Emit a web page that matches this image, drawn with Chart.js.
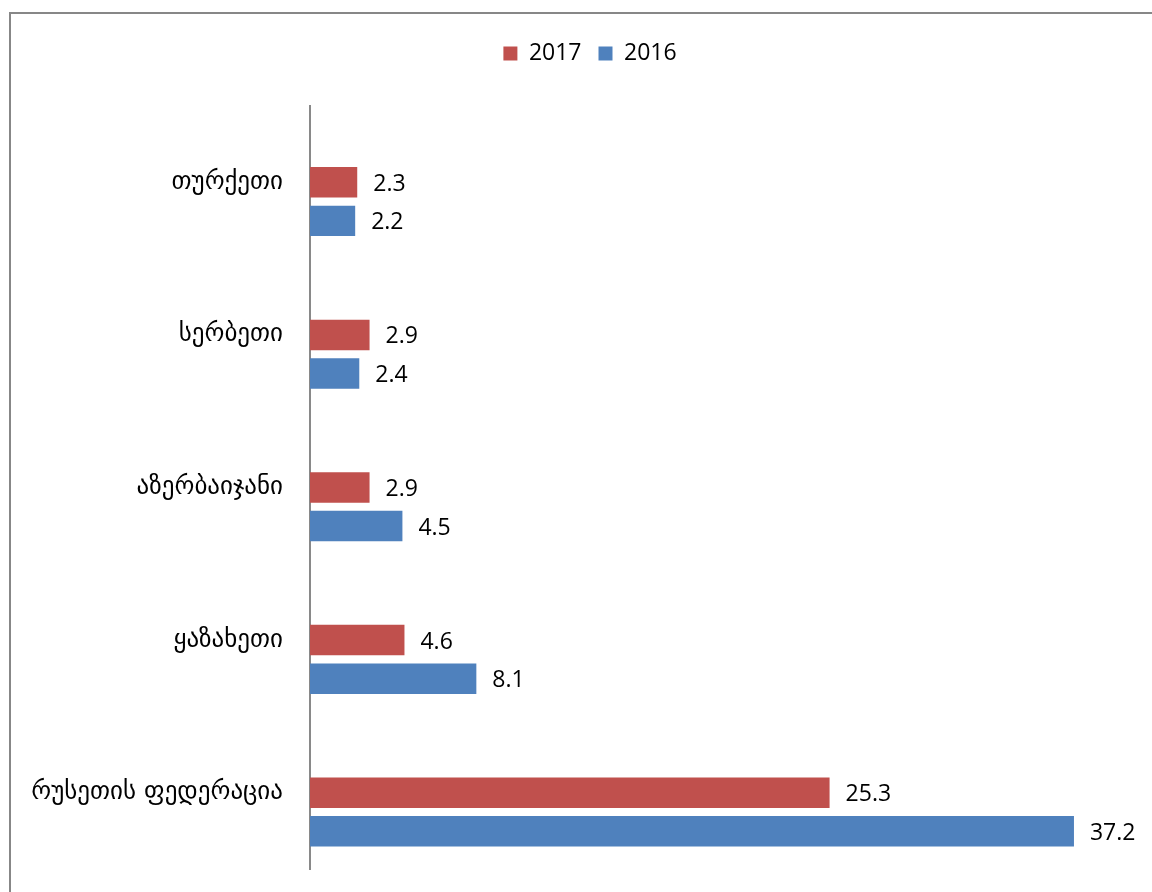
<!DOCTYPE html>
<html>
<head>
<meta charset="utf-8">
<script src="https://cdn.jsdelivr.net/npm/chart.js@4/dist/chart.umd.min.js"></script>
<style>
  html, body { margin: 0; padding: 0; background: #fff; }
  #wrap { width: 1152px; height: 892px; position: relative; }
</style>
</head>
<body>
<div id="wrap"><canvas id="chart"></canvas></div>
<script>
  // Countries, top to bottom
  const countries = ["თურქეთი", "სერბეთი", "აზერბაიჯანი", "ყაზახეთი", "რუსეთის ფედერაცია"];
  const values2017 = [2.3, 2.9, 2.9, 4.6, 25.3];
  const values2016 = [2.2, 2.4, 4.5, 8.1, 37.2];
  // empty series that keeps the top slot of every group free (as in the source chart)
  const emptySeries = [null, null, null, null, null];

  const RED = "#C0504D";
  const BLUE = "#4F81BD";
  const AXIS_GREY = "#898989";

  // frame around the whole chart
  const framePlugin = {
    id: "frame",
    beforeDraw(chart) {
      const ctx = chart.ctx;
      ctx.save();
      ctx.strokeStyle = "#878787";
      ctx.lineWidth = 2;
      ctx.strokeRect(10, 13, chart.width + 20, chart.height + 20);
      ctx.restore();
    }
  };

  // push the plot area down below the legend
  const legendGap = {
    id: "legendGap",
    beforeInit(chart) {
      const fit = chart.legend.fit;
      chart.legend.fit = function() {
        fit.bind(chart.legend)();
        this.height += 31;
      };
    }
  };

  // value labels at the end of each bar
  const valueLabels = {
    id: "valueLabels",
    afterDatasetsDraw(chart) {
      const ctx = chart.ctx;
      ctx.save();
      ctx.font = "23px 'Open Sans'";
      ctx.fillStyle = "#000";
      ctx.textBaseline = "middle";
      ctx.textAlign = "left";
      chart.data.datasets.forEach((ds, i) => {
        if (ds.placeholder) return;
        chart.getDatasetMeta(i).data.forEach((bar, j) => {
          const v = ds.data[j];
          if (v == null) return;
          ctx.fillText(v.toFixed(1), bar.x + 16, bar.y + 2);
        });
      });
      ctx.restore();
    }
  };

  new Chart(document.getElementById("chart"), {
    type: "bar",
    data: {
      labels: countries,
      datasets: [
        { label: "", data: emptySeries, placeholder: true, backgroundColor: "transparent" },
        { label: "2017", data: values2017, backgroundColor: RED },
        { label: "2016", data: values2016, backgroundColor: BLUE }
      ]
    },
    options: {
      indexAxis: "y",
      responsive: true,
      maintainAspectRatio: false,
      animation: false,
      categoryPercentage: 0.758,
      barPercentage: 0.79,
      layout: {
        padding: { top: 25, left: 28, right: 0, bottom: 23 }
      },
      plugins: {
        legend: {
          position: "top",
          labels: {
            filter: item => item.text !== "",
            boxWidth: 14,
            boxHeight: 14,
            padding: 17,
            color: "#000",
            font: { family: "'Open Sans'", size: 23 }
          }
        },
        tooltip: { enabled: false }
      },
      scales: {
        x: {
          display: false,
          min: 0,
          max: 41
        },
        y: {
          afterFit(scale) {
            scale.width = 282;
            scale.paddingTop = 0;
            scale.paddingBottom = 0;
          },
          grid: { display: false },
          border: { display: true, color: AXIS_GREY, width: 2 },
          ticks: {
            padding: 19,
            color: "#000",
            font: { family: "'DejaVu Sans'", size: 25 }
          }
        }
      }
    },
    plugins: [framePlugin, legendGap, valueLabels]
  });
</script>
</body>
</html>
